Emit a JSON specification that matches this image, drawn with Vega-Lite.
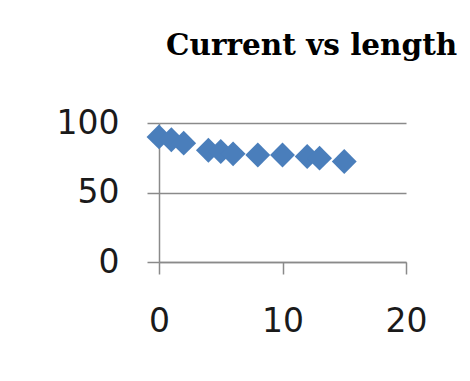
{
  "$schema": "https://vega.github.io/schema/vega-lite/v6.json",
  "autosize": "none",
  "padding": {"left": 159, "top": 123, "right": 64, "bottom": 119},
  "width": 247,
  "height": 139,
  "background": "white",
  "title": {
    "text": "Current vs length",
    "anchor": "start",
    "frame": "group",
    "dx": 7,
    "offset": 23,
    "baseline": "alphabetic",
    "font": "DejaVu Serif",
    "fontWeight": "bold",
    "fontSize": 29.5,
    "color": "#000000"
  },
  "data": {
    "values": [
      {"length": 0, "current": 90},
      {"length": 1, "current": 88},
      {"length": 2, "current": 85.5},
      {"length": 4, "current": 80.4},
      {"length": 5, "current": 79.5},
      {"length": 6, "current": 77.8},
      {"length": 8, "current": 77},
      {"length": 10, "current": 77},
      {"length": 12, "current": 75.9},
      {"length": 13, "current": 74.7},
      {"length": 15, "current": 72.3}
    ]
  },
  "mark": {"type": "point", "shape": "diamond", "filled": true, "size": 620, "color": "#4a7ebb", "opacity": 1},
  "encoding": {
    "x": {
      "field": "length",
      "type": "quantitative",
      "scale": {"domain": [0, 20], "nice": false, "zero": false},
      "axis": {"values": [0, 10, 20], "title": null, "grid": false, "labelPadding": 31, "labelFlush": false}
    },
    "y": {
      "field": "current",
      "type": "quantitative",
      "scale": {"domain": [0, 100], "nice": false},
      "axis": {"values": [0, 50, 100], "title": null, "grid": true, "labelPadding": 28, "labelFlush": false}
    }
  },
  "config": {
    "view": {"stroke": null},
    "axis": {
      "domainColor": "#8a8a8a",
      "domainWidth": 1.5,
      "tickColor": "#8a8a8a",
      "tickWidth": 1.5,
      "tickSize": 12,
      "gridColor": "#8a8a8a",
      "gridWidth": 1.5,
      "gridOpacity": 1,
      "labelFont": "DejaVu Sans",
      "labelFontSize": 33,
      "labelColor": "#1a1a1a"
    }
  }
}
